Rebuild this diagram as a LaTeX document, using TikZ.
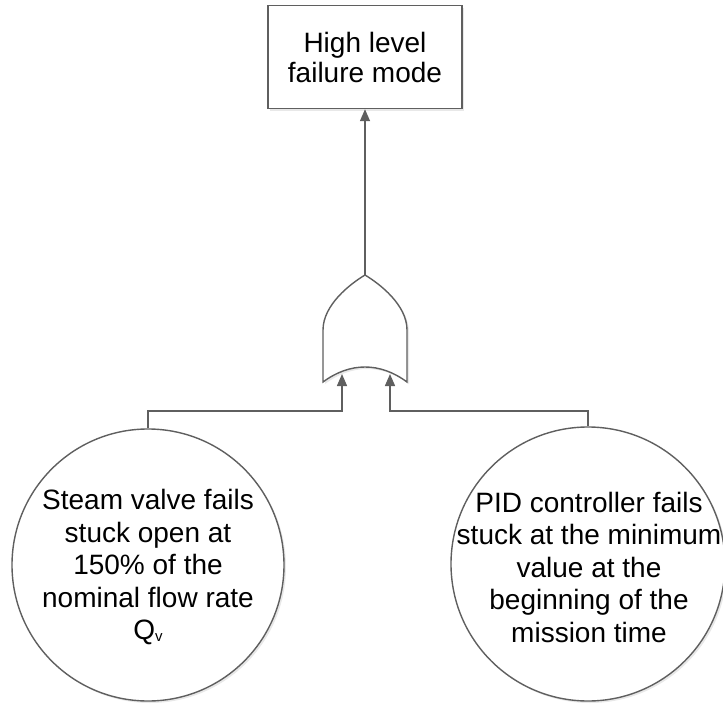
\documentclass[tikz,border=0pt]{standalone}
\usepackage{fontspec}
\setmainfont{Liberation Sans}
\usetikzlibrary{arrows.meta,shadows}
\definecolor{linegray}{RGB}{95,95,95}
\begin{document}
\begin{tikzpicture}[x=1pt,y=-1pt,
  ln/.style={draw=linegray, line width=1.4pt},
  arr/.style={ln, -{Triangle[length=12pt,width=10pt]}},
  lbl/.style={align=center, font=\fontsize{28}{32.5}\selectfont, text=black},
  shade/.style={drop shadow={opacity=0.18, shadow xshift=2pt, shadow yshift=-2pt}}]
\useasboundingbox (0,0) rectangle (723,704);
% top event
\node[ln, fill=white, shade, minimum width=194pt, minimum height=103pt, inner sep=0pt,
      lbl, font=\fontsize{28}{30}\selectfont] (top) at (365,57) {High level\\failure mode};
% OR gate
\coordinate (apex) at (365,275);
\filldraw[ln, fill=white, shade] (apex) .. controls (350,284) and (323,305) .. (323,330)
  -- (323,382) .. controls (350,362) and (380,362) .. (407,382)
  -- (407,330) .. controls (407,305) and (380,284) .. (apex) -- cycle;
\coordinate (in1) at (342,374);
\coordinate (in2) at (390,374);
\coordinate (j1) at (342,411);
\coordinate (j2) at (390,411);
% basic events
\node[ln, circle, fill=white, shade, minimum size=272pt, inner sep=0pt] (c1) at (148,565) {};
\node[lbl] (t1) at (148,567) {Steam valve fails\\stuck open at\\150\% of the\\nominal flow rate\\Q\raisebox{-2pt}{\fontsize{15}{15}\selectfont v}};
\node[ln, circle, fill=white, shade, minimum size=274pt, inner sep=0pt] (c2) at (588,564) {};
\node[lbl] (t2) at (589,567) {PID controller fails\\stuck at the minimum\\value at the\\beginning of the\\mission time};
% connectors
\draw[arr] (apex) -- (top.south);
\draw[arr] (c1.north) |- (j1) -- (in1);
\draw[arr] (c2.north) |- (j2) -- (in2);
\end{tikzpicture}
\end{document}
